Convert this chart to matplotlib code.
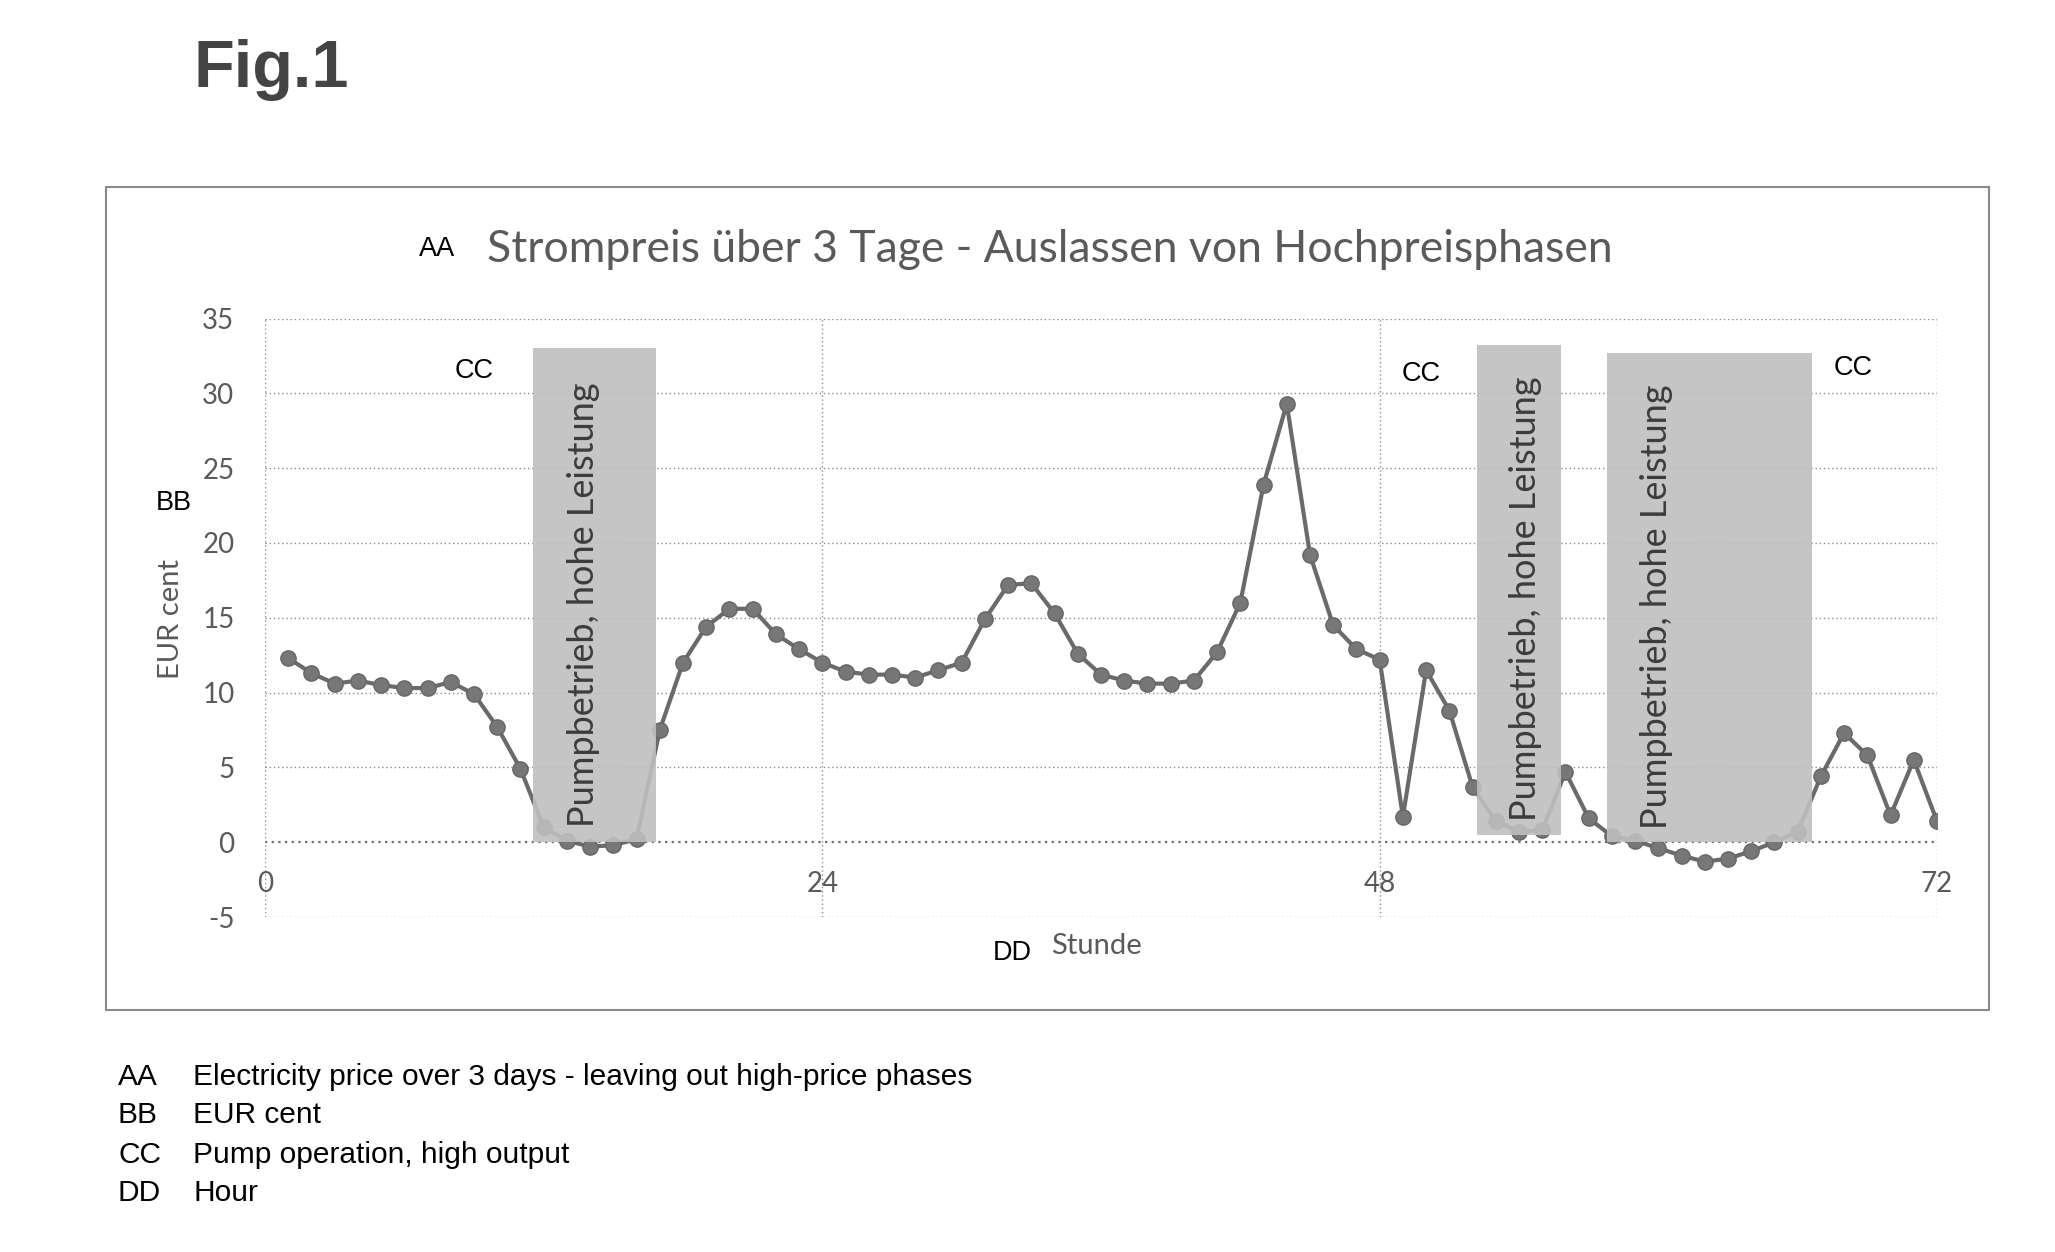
import matplotlib
matplotlib.use("Agg")
import matplotlib.pyplot as plt
from matplotlib.patches import Rectangle

plt.rcParams["axes.unicode_minus"] = False

# Strompreis pro Stunde (EUR cent), Stunde 1..72
hours = list(range(1, 73))
price = [12.3, 11.3, 10.6, 10.8, 10.5, 10.3, 10.3, 10.7, 9.9, 7.7,
         4.9, 1.0, 0.1, -0.3, -0.2, 0.2, 7.5, 12.0, 14.4, 15.6,
         15.6, 13.9, 12.9, 12.0, 11.4, 11.2, 11.2, 11.0, 11.5, 12.0,
         14.9, 17.2, 17.3, 15.3, 12.6, 11.2, 10.8, 10.6, 10.6, 10.8,
         12.7, 16.0, 23.9, 29.3, 19.2, 14.5, 12.9, 12.2, 1.7, 11.5,
         8.8, 3.7, 1.4, 0.7, 0.8, 4.7, 1.6, 0.4, 0.1, -0.4,
         -0.9, -1.3, -1.1, -0.6, 0.0, 0.7, 4.4, 7.3, 5.8, 1.8,
         5.5, 1.4]

# Pumpbetrieb-Phasen (hohe Leistung)
pump_start = [11.55, 52.2, 57.8]
pump_end = [16.85, 55.8, 66.6]
pump_bottom = [0.0, 0.45, 0.0]
pump_top = [33.0, 33.2, 32.7]
pump_text_x = [13.7, 54.3, 59.9]
pump_text_y = [1.0, 1.4, 0.85]
pump_label = "Pumpbetrieb, hohe Leistung"

xticks = [0, 24, 48, 72]
yticks = [-5, 0, 5, 10, 15, 20, 25, 30, 35]

legend_keys = ["AA", "BB", "CC", "DD"]
legend_text = ["Electricity price over 3 days - leaving out high-price phases",
               "EUR cent", "Pump operation, high output", "Hour"]

W, H = 2055, 1252
fig = plt.figure(figsize=(W / 100, H / 100), dpi=100)
fx = lambda px: px / W
fy = lambda py: 1 - py / H

ax = fig.add_axes([fx(265), fy(917), fx(1937) - fx(265), fy(318.5) - fy(917)])
ax.set_xlim(0, 72)
ax.set_ylim(-5, 35)

grey_txt = "#5a5a5a"
calib = ["Lato", "DejaVu Sans"]
arial = ["Liberation Sans", "DejaVu Sans"]

# gridlines (dotted, Excel-like)
for y in yticks:
    ax.axhline(y, color="#8c8c8c" if y != 0 else "#6e6e6e", lw=1.0 if y != 0 else 1.6,
               ls=(0, (1, 2)), zorder=0)
for x in xticks:
    ax.axvline(x, color="#8c8c8c", lw=1.0, ls=(0, (1, 2)), zorder=0)
for s in ax.spines.values():
    s.set_visible(False)

ax.plot(hours, price, color="#6a6a6a", lw=3, marker="o", ms=11,
        mfc="#777777", mec="#666666", zorder=2)

for x0, x1, b, t, tx, ty in zip(pump_start, pump_end, pump_bottom, pump_top,
                                pump_text_x, pump_text_y):
    ax.add_patch(Rectangle((x0, b), x1 - x0, t - b, facecolor="#bfbfbf",
                           edgecolor="none", alpha=0.9, zorder=3))
    ax.text(tx, ty, pump_label, rotation=90, ha="center", va="bottom",
            fontsize=26, color="#3c3c3c", family=calib, zorder=4)

ax.set_xticks(xticks)
ax.set_yticks(yticks)
ax.tick_params(length=0)
ax.tick_params(axis="x", pad=-33)
ax.tick_params(axis="y", pad=22)
for lab in ax.get_xticklabels() + ax.get_yticklabels():
    lab.set_fontsize(20)
    lab.set_color(grey_txt)
    lab.set_family(calib)

# chart border
fig.patches.append(Rectangle((fx(106), fy(1010)), fx(1989) - fx(106), fy(187) - fy(1010),
                             transform=fig.transFigure, fill=False,
                             edgecolor="#8a8a8a", lw=1.5))

fig.text(fx(194), fy(87), "Fig.1", fontsize=48, weight="bold", family=arial,
         color="#444444", va="baseline")

fig.text(fx(419), fy(249), "AA", fontsize=19.5, family=arial, va="center")
fig.text(fx(487), fy(249), "Strompreis über 3 Tage - Auslassen von Hochpreisphasen",
         fontsize=32, family=calib, color=grey_txt, va="center")

fig.text(fx(174), fy(503), "BB", fontsize=19.5, family=arial, ha="center", va="center")
fig.text(fx(171), fy(619), "EUR cent", fontsize=21, family=calib, color=grey_txt,
         rotation=90, ha="center", va="center")

for cx, cy in [(474, 371), (1421, 374), (1853, 368)]:
    fig.text(fx(cx), fy(cy), "CC", fontsize=19.5, family=arial, ha="center", va="center")

fig.text(fx(1012), fy(953), "DD", fontsize=19.5, family=arial, ha="center", va="center")
fig.text(fx(1051), fy(946), "Stunde", fontsize=21, family=calib, color=grey_txt,
         va="center")

for i, (k, t) in enumerate(zip(legend_keys, legend_text)):
    yy = [1077, 1115, 1155, 1193][i]
    fig.text(fx(118), fy(yy), k, fontsize=21.5, family=arial, va="center")
    fig.text(fx(193), fy(yy), t, fontsize=21.5, family=arial, va="center")

fig.savefig("out.png", dpi=100)
